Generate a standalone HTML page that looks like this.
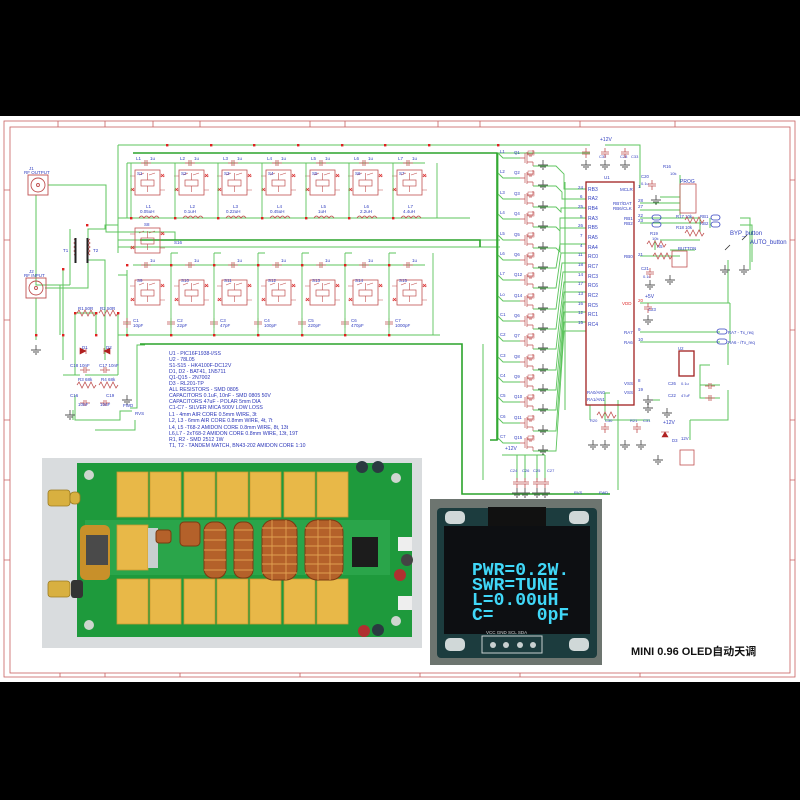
<!DOCTYPE html>
<html><head><meta charset="utf-8"><style>
html,body{margin:0;padding:0;background:#000;}
svg{display:block}
</style></head><body>
<svg width="800" height="800" viewBox="0 0 800 800" xmlns="http://www.w3.org/2000/svg" font-family="Liberation Sans, sans-serif">
<defs>
<g id="rel">
<rect x="0" y="0" width="25" height="25" fill="none" stroke="#c05050" stroke-width="0.8"/>
<rect x="6" y="10" width="13" height="6" fill="none" stroke="#c05050" stroke-width="0.7"/>
<path d="M12.5 3V10M12.5 16V22M4 5L9 3M14 5L20 3M-5 6H0M25 6H30M-5 20H0M25 20H30" stroke="#c05050" stroke-width="0.6" fill="none"/>
<path d="M26 4l3 3M29 4l-3 3M-4 18l3 3M-1 18l-3 3" stroke="#e03030" stroke-width="0.8"/>
</g>
<g id="ind"><path d="M0 0q2.5-4 5 0q2.5-4 5 0q2.5-4 5 0q2.5-4 5 0" fill="none" stroke="#c05050" stroke-width="0.8"/></g>
<g id="capv"><path d="M0 0V4M-4 4H4M-4 6H4M0 6V10" stroke="#c05050" stroke-width="0.8" fill="none"/></g>
<g id="caph"><path d="M0 0H4M4 -3V3M6 -3V3M6 0H10" stroke="#c05050" stroke-width="0.8" fill="none"/></g>
<g id="gnd"><path d="M0 0V5M-5 5H5M-3 7H3M-1 9H1" stroke="#555" stroke-width="0.9" fill="none"/></g>
<g id="q"><path d="M0 0H5M5 -5V5M7 -6V6M7 -4H13M7 4H13M13 -4V-8M13 4V8M9 -2H12" stroke="#c05050" stroke-width="0.7" fill="none"/><rect x="8" y="-7" width="6" height="4" fill="none" stroke="#c05050" stroke-width="0.5"/></g>
<g id="res"><path d="M0 0l2-3l3 6l3-6l3 6l3-6l3 6l2-3" fill="none" stroke="#c05050" stroke-width="0.8"/></g>
</defs>

<rect x="0" y="116" width="800" height="566" fill="#fff"/>
<g fill="none" stroke="#c86060" stroke-width="0.8">
<rect x="4" y="121" width="791" height="556"/>
<rect x="10" y="127" width="780" height="546"/>
<path d="M58 121V127M105 121V127M153 121V127M200 121V127M310 121V127M345 121V127M438 121V127M480 121V127M580 121V127M675 121V127M790 180H795M790 240H795M790 330H795M790 420H795M790 480H795M790 560H795M4 190H10M4 240H10M4 320H10M4 420H10M4 480H10M4 560H10M60 673V677M105 673V677M180 673V677M300 673V677M420 673V677M520 673V677M640 673V677"/>
</g>

<g fill="none" stroke="#5cc45c" stroke-width="1">
<path d="M118 145H590M133 153H497M127 163H425M118 145V253M127 163V218"/>
<path d="M118 218H470M118 240H500M118 247H500M133 265H425M118 335H440"/>
<path d="M48 185H106V232H175V240M36 195V285H70M45 288H88V229H105V225H118M60 285V335M36 298V340"/>
<path d="M70 229V285M88 260H105V340M63 270V360M105 340V360"/>
<path d="M75 313H96M96 313V335M127 270V335M127 275H118"/>
<path d="M75 313V375M118 313V375M63 375H80M85 375H118M75 395V420H120V411H132M73 410V420M130 408H137V345H145M148 344H462V494H610M483 344V480M95 430H135V420"/>
<path d="M498 153V440M565 182V410M498 153H590"/>
<path d="M605 145H640V182M640 152V188M680 175V215M660 197H680M640 203H680M640 210H680M640 218H700V232M640 223H700M660 240H700M640 256H680M640 303H730M730 303V343M728 260V303M656 218H660M655 240V250M670 250H695M740 218H750V270M740 225H752V262M710 218V228M640 332H720M640 342H720M728 343V365M728 390V420H690M690 420V440M710 365H700V398H720M700 385H720M650 400H660M618 400V490M610 393H605V420M590 405V420M605 420H650"/>
<path d="M502 455H545M517 455V480M525 455V480M537 455V480M545 455V480"/>
</g>
<g stroke="#2ba32b" stroke-width="1.6" fill="none">
<path d="M133 153H497V440H490M140 240H480V247M140 344H462V494H610"/>
</g>

<g fill="none" stroke="#c05050" stroke-width="0.9">
<rect x="28" y="175" width="20" height="20"/><circle cx="38" cy="185" r="7"/><circle cx="38" cy="185" r="1.5"/>
<rect x="26" y="278" width="20" height="20"/><circle cx="36" cy="288" r="7"/><circle cx="36" cy="288" r="1.5"/>
</g>
<path d="M74 239q3 2 0 4q3 2 0 4q3 2 0 4q3 2 0 4M90 239q-3 2 0 4q-3 2 0 4q-3 2 0 4q-3 2 0 4" fill="none" stroke="#c05050" stroke-width="0.8"/>
<rect x="74.5" y="238" width="2" height="25" fill="#222"/><rect x="86.5" y="238" width="2" height="25" fill="#222"/>
<use href="#gnd" x="36" y="345"/>
<use href="#res" x="77" y="313"/><use href="#res" x="99" y="313"/>
<use href="#res" x="77" y="385"/><use href="#res" x="99" y="385"/>
<use href="#caph" x="80" y="370"/><use href="#caph" x="100" y="370"/>
<use href="#caph" x="80" y="403"/><use href="#caph" x="100" y="403"/>
<path d="M80 348l6 3l-6 3zM86 348V354M110 348l-6 3l6 3zM104 348V354" fill="#b02020" stroke="#b02020" stroke-width="0.6"/>
<use href="#gnd" x="70" y="410"/><use href="#gnd" x="127" y="395"/>

<g>
<use href="#rel" x="135" y="170"/><use href="#rel" x="179" y="170"/><use href="#rel" x="222" y="170"/><use href="#rel" x="266" y="170"/><use href="#rel" x="310" y="170"/><use href="#rel" x="353" y="170"/><use href="#rel" x="397" y="170"/>
<use href="#rel" x="135" y="228"/>
<use href="#rel" x="135" y="280"/><use href="#rel" x="179" y="280"/><use href="#rel" x="222" y="280"/><use href="#rel" x="266" y="280"/><use href="#rel" x="310" y="280"/><use href="#rel" x="353" y="280"/><use href="#rel" x="397" y="280"/>
</g>
<g>
<use href="#caph" x="141" y="163"/><use href="#caph" x="185" y="163"/><use href="#caph" x="228" y="163"/><use href="#caph" x="272" y="163"/><use href="#caph" x="316" y="163"/><use href="#caph" x="359" y="163"/><use href="#caph" x="403" y="163"/>
<use href="#caph" x="141" y="265"/><use href="#caph" x="185" y="265"/><use href="#caph" x="228" y="265"/><use href="#caph" x="272" y="265"/><use href="#caph" x="316" y="265"/><use href="#caph" x="359" y="265"/><use href="#caph" x="403" y="265"/>
<use href="#ind" x="139" y="218"/><use href="#ind" x="183" y="218"/><use href="#ind" x="226" y="218"/><use href="#ind" x="270" y="218"/><use href="#ind" x="314" y="218"/><use href="#ind" x="357" y="218"/><use href="#ind" x="401" y="218"/>
<use href="#capv" x="127" y="318"/><use href="#capv" x="171" y="318"/><use href="#capv" x="214" y="318"/><use href="#capv" x="258" y="318"/><use href="#capv" x="302" y="318"/><use href="#capv" x="345" y="318"/><use href="#capv" x="389" y="318"/>
</g>
<g fill="none" stroke="#5cc45c" stroke-width="0.9">
<path d="M131 163V218M175 163V218M218 163V218M262 163V218M306 163V218M349 163V218M393 163V218M437 163V218"/>
<path d="M171 253V335M214 253V335M258 253V335M302 253V335M345 253V335M389 253V335M433 253V335M171 253H178M214 253H221M258 253H265M302 253H309M345 253H352M389 253H396"/>
</g>
<g fill="#e02020">
<rect x="130" y="217" width="2.4" height="2.4"/><rect x="174" y="217" width="2.4" height="2.4"/><rect x="217" y="217" width="2.4" height="2.4"/><rect x="261" y="217" width="2.4" height="2.4"/><rect x="305" y="217" width="2.4" height="2.4"/><rect x="348" y="217" width="2.4" height="2.4"/><rect x="392" y="217" width="2.4" height="2.4"/>
<rect x="166" y="144" width="2.4" height="2.4"/><rect x="210" y="144" width="2.4" height="2.4"/><rect x="253" y="144" width="2.4" height="2.4"/><rect x="297" y="144" width="2.4" height="2.4"/><rect x="341" y="144" width="2.4" height="2.4"/><rect x="384" y="144" width="2.4" height="2.4"/><rect x="428" y="144" width="2.4" height="2.4"/><rect x="497" y="144" width="2.4" height="2.4"/>
<rect x="126" y="264" width="2.4" height="2.4"/><rect x="170" y="264" width="2.4" height="2.4"/><rect x="213" y="264" width="2.4" height="2.4"/><rect x="257" y="264" width="2.4" height="2.4"/><rect x="301" y="264" width="2.4" height="2.4"/><rect x="344" y="264" width="2.4" height="2.4"/><rect x="388" y="264" width="2.4" height="2.4"/>
<rect x="126" y="334" width="2.4" height="2.4"/><rect x="170" y="334" width="2.4" height="2.4"/><rect x="213" y="334" width="2.4" height="2.4"/><rect x="257" y="334" width="2.4" height="2.4"/><rect x="301" y="334" width="2.4" height="2.4"/><rect x="344" y="334" width="2.4" height="2.4"/><rect x="388" y="334" width="2.4" height="2.4"/>
<rect x="35" y="334" width="2.4" height="2.4"/><rect x="62" y="334" width="2.4" height="2.4"/><rect x="95" y="334" width="2.4" height="2.4"/><rect x="62" y="268" width="2.4" height="2.4"/><rect x="74" y="312" width="2.4" height="2.4"/><rect x="95" y="312" width="2.4" height="2.4"/><rect x="117" y="312" width="2.4" height="2.4"/><rect x="86" y="224" width="2.4" height="2.4"/>
</g>
<g fill="#3340c0" font-size="4.5">
<text x="29" y="170">J1</text><text x="24" y="174">RF OUTPUT</text><text x="29" y="273">J2</text><text x="24" y="277">RF INPUT</text>
<text x="63" y="252">T1</text><text x="93" y="252">T2</text>
<text x="78" y="310">R1 50R</text><text x="100" y="310">R2 50R</text>
<text x="82" y="349">D1</text><text x="106" y="349">D2</text>
<text x="70" y="367">C18 10nF</text><text x="99" y="367">C17 10nF</text>
<text x="78" y="381">R3 68k</text><text x="101" y="381">R4 68k</text>
<text x="70" y="397">C16</text><text x="78" y="406">10nF</text><text x="106" y="397">C19</text><text x="100" y="406">10nF</text>
<text x="123" y="407">FWD</text><text x="135" y="415">RVS</text>
<text x="136" y="160">L1</text><text x="150" y="160">1u</text><text x="180" y="160">L2</text><text x="194" y="160">1u</text><text x="223" y="160">L3</text><text x="237" y="160">1u</text><text x="267" y="160">L4</text><text x="281" y="160">1u</text><text x="311" y="160">L5</text><text x="325" y="160">1u</text><text x="354" y="160">L6</text><text x="368" y="160">1u</text><text x="398" y="160">L7</text><text x="412" y="160">1u</text>
<text x="137" y="175">S1</text><text x="181" y="175">S2</text><text x="224" y="175">S3</text><text x="268" y="175">S4</text><text x="312" y="175">S5</text><text x="355" y="175">S6</text><text x="399" y="175">S7</text>
<text x="146" y="208">L1</text><text x="140" y="213">0.05uH</text><text x="190" y="208">L2</text><text x="184" y="213">0.1uH</text><text x="233" y="208">L3</text><text x="226" y="213">0.22uH</text><text x="277" y="208">L4</text><text x="270" y="213">0.45uH</text><text x="321" y="208">L5</text><text x="318" y="213">1uH</text><text x="364" y="208">L6</text><text x="360" y="213">2.2uH</text><text x="408" y="208">L7</text><text x="403" y="213">4.4uH</text>
<text x="144" y="226">S8</text><text x="174" y="244">S16</text>
<text x="150" y="262">1u</text><text x="194" y="262">1u</text><text x="237" y="262">1u</text><text x="281" y="262">1u</text><text x="325" y="262">1u</text><text x="368" y="262">1u</text><text x="412" y="262">1u</text>
<text x="137" y="282">S9</text><text x="181" y="282">S10</text><text x="224" y="282">S11</text><text x="268" y="282">S12</text><text x="312" y="282">S13</text><text x="355" y="282">S14</text><text x="399" y="282">S15</text>
<text x="133" y="322">C1</text><text x="133" y="327">10pF</text><text x="177" y="322">C2</text><text x="177" y="327">22pF</text><text x="220" y="322">C3</text><text x="220" y="327">47pF</text><text x="264" y="322">C4</text><text x="264" y="327">100pF</text><text x="308" y="322">C5</text><text x="308" y="327">220pF</text><text x="351" y="322">C6</text><text x="351" y="327">470pF</text><text x="395" y="322">C7</text><text x="395" y="327">1000pF</text>
</g>
<g fill="#2a35b8" font-size="5.2">
<text x="169" y="355">U1 - PIC16F1938-I/SS</text>
<text x="169" y="361">U2 - 78L05</text>
<text x="169" y="367">S1-S15 - HK4100F-DC12V</text>
<text x="169" y="373">D1, D2 - BAT41, 1N5711</text>
<text x="169" y="379">Q1-Q15 - 2N7002</text>
<text x="169" y="385">D3 - RL201-TP</text>
<text x="169" y="391">ALL RESISTORS - SMD 0805</text>
<text x="169" y="397">CAPACITORS 0.1uF, 10nF - SMD 0805 50V</text>
<text x="169" y="403">CAPACITORS 47uF - POLAR 5mm DIA</text>
<text x="169" y="409">C1-C7 - SILVER MICA 500V LOW LOSS</text>
<text x="169" y="416">L1 - 4mm AIR CORE 0.5mm WIRE, 3t</text>
<text x="169" y="422">L2, L3 - 6mm AIR CORE 0.8mm WIRE, 4t, 7t</text>
<text x="169" y="429">L4, L5 -T68-2 AMIDON CORE 0.8mm WIRE, 8t, 13t</text>
<text x="169" y="435">L6,L7 - 2xT68-2 AMIDON CORE 0.8mm WIRE, 13t, 19T</text>
<text x="169" y="441">R1, R2 - SMD 2512 1W</text>
<text x="169" y="447">T1, T2 - TANDEM MATCH, BN43-202 AMIDON CORE 1:10</text>
</g>

<g>
<use href="#q" x="520" y="158"/><use href="#q" x="520" y="178"/><use href="#q" x="520" y="199"/><use href="#q" x="520" y="219"/><use href="#q" x="520" y="240"/><use href="#q" x="520" y="260"/><use href="#q" x="520" y="280"/><use href="#q" x="520" y="301"/><use href="#q" x="520" y="321"/><use href="#q" x="520" y="341"/><use href="#q" x="520" y="362"/><use href="#q" x="520" y="382"/><use href="#q" x="520" y="402"/><use href="#q" x="520" y="423"/><use href="#q" x="520" y="443"/>
<use href="#gnd" x="543" y="160"/><use href="#gnd" x="543" y="180"/><use href="#gnd" x="543" y="201"/><use href="#gnd" x="543" y="221"/><use href="#gnd" x="543" y="242"/><use href="#gnd" x="543" y="262"/><use href="#gnd" x="543" y="282"/><use href="#gnd" x="543" y="303"/><use href="#gnd" x="543" y="323"/><use href="#gnd" x="543" y="343"/><use href="#gnd" x="543" y="364"/><use href="#gnd" x="543" y="384"/><use href="#gnd" x="543" y="404"/><use href="#gnd" x="543" y="425"/><use href="#gnd" x="543" y="445"/>
</g>
<g fill="none" stroke="#5cc45c" stroke-width="0.9">
<path d="M498 153l5 5H520M498 173l5 5H520M498 194l5 5H520M498 214l5 5H520M498 235l5 5H520M498 255l5 5H520M498 275l5 5H520M498 296l5 5H520M498 316l5 5H520M498 336l5 5H520M498 357l5 5H520M498 377l5 5H520M498 397l5 5H520M498 418l5 5H520M498 438l5 5H520"/>
<path d="M533 166H556l8 8V189H586M533 186H556l6 6V199H586M533 207H556l5 5V208H586M533 227H556l4 4V218H586M533 248H556l4 4V228H586M533 268H556l4-24H586M533 288H556l5-35H586M533 309H556l6-46H586M533 329H556l7-57H586M533 349H556l8-67H586M533 370H556l8-78H586M533 390H556l8-88H586M533 410H556l8-98H586M533 431H556l8-109H586M533 451H556l8-120H586"/>
</g>
<g fill="#3340c0" font-size="4.3">
<text x="500" y="153">L1</text><text x="500" y="173">L2</text><text x="500" y="194">L3</text><text x="500" y="214">L4</text><text x="500" y="235">L5</text><text x="500" y="255">L6</text><text x="500" y="275">L7</text><text x="500" y="296">Lo</text><text x="500" y="316">C1</text><text x="500" y="336">C2</text><text x="500" y="357">C3</text><text x="500" y="377">C4</text><text x="500" y="397">C5</text><text x="500" y="418">C6</text><text x="500" y="438">C7</text>
<text x="514" y="154">Q1</text><text x="514" y="174">Q2</text><text x="514" y="195">Q3</text><text x="514" y="215">Q4</text><text x="514" y="236">Q5</text><text x="514" y="256">Q6</text><text x="514" y="276">Q12</text><text x="514" y="297">Q14</text><text x="514" y="317">Q6</text><text x="514" y="337">Q7</text><text x="514" y="358">Q8</text><text x="514" y="378">Q9</text><text x="514" y="398">Q10</text><text x="514" y="419">Q11</text><text x="514" y="439">Q15</text>
</g>

<rect x="586" y="182" width="48" height="223" fill="none" stroke="#a02020" stroke-width="1.3"/>
<g fill="#3340c0" font-size="5">
<text x="604" y="179" font-size="4.5">U1</text>
<text x="588" y="191">RB3</text><text x="588" y="200">RA2</text><text x="588" y="210">RB4</text><text x="588" y="220">RA3</text><text x="588" y="229">RB5</text><text x="588" y="239">RA5</text><text x="588" y="249">RA4</text><text x="588" y="258">RC0</text><text x="588" y="268">RC7</text><text x="588" y="278">RC3</text><text x="588" y="287">RC6</text><text x="588" y="297">RC2</text><text x="588" y="307">RC5</text><text x="588" y="316">RC1</text><text x="588" y="326">RC4</text>
<text x="578" y="189" font-size="4.5">24</text><text x="580" y="198" font-size="4.5">6</text><text x="578" y="208" font-size="4.5">25</text><text x="580" y="218" font-size="4.5">5</text><text x="578" y="227" font-size="4.5">26</text><text x="580" y="237" font-size="4.5">7</text><text x="580" y="247" font-size="4.5">4</text><text x="578" y="256" font-size="4.5">11</text><text x="578" y="266" font-size="4.5">18</text><text x="578" y="276" font-size="4.5">14</text><text x="578" y="285" font-size="4.5">17</text><text x="578" y="295" font-size="4.5">13</text><text x="578" y="305" font-size="4.5">16</text><text x="578" y="314" font-size="4.5">12</text><text x="578" y="324" font-size="4.5">15</text>
<text x="620" y="191" font-size="4.5">MCLR</text><text x="613" y="205" font-size="4.5">RB7/DAT</text><text x="613" y="210" font-size="4.5">RB6/CLK</text>
<text x="624" y="220" font-size="4.5">RB1</text><text x="624" y="225" font-size="4.5">RB2</text><text x="624" y="258" font-size="4.5">RB0</text>
<text x="622" y="305" font-size="4.5" fill="#e03030">VDD</text><text x="624" y="334" font-size="4.5">RA7</text><text x="624" y="344" font-size="4.5">RA6</text>
<text x="624" y="385" font-size="4.5">VSS</text><text x="624" y="394" font-size="4.5">VSS</text>
<text x="587" y="394" font-size="4.3">RA0/AN0</text><text x="587" y="401" font-size="4.3">RA1/AN1</text>
<text x="638" y="188" font-size="4.5">1</text><text x="638" y="202" font-size="4.5">28</text><text x="638" y="208" font-size="4.5">27</text><text x="638" y="217" font-size="4.5">22</text><text x="638" y="222" font-size="4.5">23</text><text x="638" y="256" font-size="4.5">21</text><text x="638" y="302" font-size="4.5" fill="#e03030">20</text><text x="638" y="331" font-size="4.5">9</text><text x="638" y="341" font-size="4.5">10</text><text x="638" y="382" font-size="4.5">8</text><text x="638" y="391" font-size="4.5">19</text>
<text x="600" y="141">+12V</text><text x="599" y="158" font-size="4">C32</text><text x="620" y="158" font-size="4">C28</text><text x="631" y="158" font-size="4">C33</text>
<text x="641" y="178" font-size="4.3">C20</text><text x="641" y="185" font-size="4">0.1u</text>
<text x="663" y="168" font-size="4.3">R16</text><text x="670" y="175" font-size="4">10k</text>
<text x="680" y="183" font-size="5">PROG</text>
<text x="676" y="218" font-size="4.3">R17 10k</text><text x="676" y="229" font-size="4.3">R18 10k</text>
<text x="650" y="235" font-size="4.3">R19</text><text x="652" y="240" font-size="4">10k</text><text x="657" y="248" font-size="4.3">R5</text>
<text x="678" y="250" font-size="4.5">BUTTON</text>
<text x="641" y="270" font-size="4.3">C21</text><text x="643" y="278" font-size="4">0.1u</text>
<text x="645" y="298">+5V</text><text x="648" y="311" font-size="4.3">C23</text>
<text x="700" y="218" font-size="4.3">RB1</text><text x="700" y="225" font-size="4.3">RB2</text>
<text x="730" y="235" font-size="6">BYP_button</text><text x="750" y="244" font-size="6">AUTO_button</text>
<text x="728" y="334" font-size="4.3">RA7 - Tx_req</text><text x="728" y="344" font-size="4.3">RA6 - /Tx_req</text>
<text x="678" y="350" font-size="4.3">U2</text>
<text x="668" y="385" font-size="4.3">C26</text><text x="681" y="385" font-size="4">0.1u</text><text x="668" y="397" font-size="4.3">C22</text><text x="681" y="397" font-size="4">47uF</text>
<text x="663" y="424">+12V</text><text x="672" y="442" font-size="4.3">D3</text><text x="681" y="440" font-size="4.3">12V</text>
<text x="590" y="422" font-size="4">R20</text><text x="605" y="422" font-size="4">C30</text><text x="630" y="422" font-size="4">R21</text><text x="643" y="422" font-size="4">C31</text>
<text x="505" y="450">+12V</text><text x="510" y="472" font-size="4">C24</text><text x="522" y="472" font-size="4">C26</text><text x="533" y="472" font-size="4">C25</text><text x="547" y="472" font-size="4">C27</text>
<text x="574" y="494" font-size="4">RVS</text><text x="599" y="494" font-size="4">FWD</text>
</g>
<g>
<use href="#capv" x="586" y="148"/><use href="#capv" x="605" y="148"/><use href="#capv" x="625" y="148"/>
<use href="#gnd" x="586" y="160"/><use href="#gnd" x="605" y="160"/><use href="#gnd" x="625" y="160"/>
<use href="#capv" x="652" y="180"/><use href="#gnd" x="656" y="195"/>
<rect x="680" y="184" width="16" height="29" fill="none" stroke="#c05050" stroke-width="0.8"/>
<rect x="672" y="251" width="15" height="16" fill="none" stroke="#c05050" stroke-width="0.8"/>
<use href="#res" x="685" y="220"/><use href="#res" x="685" y="233"/><use href="#res" x="647" y="244"/><use href="#res" x="653" y="256"/>
<use href="#capv" x="650" y="268"/><use href="#gnd" x="650" y="280"/><use href="#gnd" x="670" y="275"/>
<use href="#capv" x="648" y="303"/><use href="#gnd" x="648" y="315"/>
<rect x="679" y="351" width="15" height="25" fill="none" stroke="#a02020" stroke-width="1.3"/>
<use href="#caph" x="705" y="386"/><use href="#caph" x="705" y="398"/><use href="#gnd" x="667" y="408"/>
<use href="#gnd" x="648" y="395"/><use href="#gnd" x="648" y="403"/>
<use href="#res" x="597" y="415"/><use href="#capv" x="605" y="423"/><use href="#capv" x="637" y="423"/>
<use href="#gnd" x="593" y="440"/><use href="#gnd" x="605" y="440"/><use href="#gnd" x="625" y="440"/><use href="#gnd" x="641" y="440"/>
<path d="M662 437l3-5l3 5zM661 432H669" fill="#b02020" stroke="#b02020" stroke-width="0.6"/>
<rect x="680" y="450" width="14" height="15" fill="none" stroke="#c05050" stroke-width="0.8"/>
<use href="#gnd" x="658" y="455"/>
<use href="#capv" x="517" y="478"/><use href="#capv" x="525" y="478"/><use href="#capv" x="537" y="478"/><use href="#capv" x="545" y="478"/>
<use href="#gnd" x="517" y="488"/><use href="#gnd" x="525" y="488"/><use href="#gnd" x="537" y="488"/><use href="#gnd" x="545" y="488"/>
<use href="#gnd" x="725" y="265"/><use href="#gnd" x="744" y="265"/>
<path d="M725 250l5-5M742 240l5-5" stroke="#333" stroke-width="0.8"/>
<g fill="none" stroke="#3340c0" stroke-width="0.8">
<rect x="711" y="215" width="9" height="5" rx="2.5"/><rect x="711" y="222" width="9" height="5" rx="2.5"/>
<rect x="652" y="215" width="9" height="5" rx="2.5"/><rect x="652" y="222" width="9" height="5" rx="2.5"/>
<rect x="717" y="329" width="10" height="5" rx="2.5"/><rect x="717" y="339" width="10" height="5" rx="2.5"/>
</g>
</g>

<rect x="42" y="458" width="380" height="190" fill="#d9dcde"/>
<rect x="77" y="463" width="335" height="174" fill="#1e9a3c"/>
<rect x="85" y="520" width="305" height="55" fill="#2aa54a"/>
<g fill="#e8b848" stroke="#c99a30" stroke-width="0.8">
<rect x="117" y="472" width="31" height="45"/><rect x="150" y="472" width="31" height="45"/><rect x="184" y="472" width="31" height="45"/><rect x="217" y="472" width="31" height="45"/><rect x="250" y="472" width="31" height="45"/><rect x="284" y="472" width="31" height="45"/><rect x="317" y="472" width="31" height="45"/>
<rect x="117" y="579" width="31" height="45"/><rect x="150" y="579" width="31" height="45"/><rect x="184" y="579" width="31" height="45"/><rect x="217" y="579" width="31" height="45"/><rect x="250" y="579" width="31" height="45"/><rect x="284" y="579" width="31" height="45"/><rect x="317" y="579" width="31" height="45"/>
<rect x="117" y="525" width="31" height="45"/>
</g>
<rect x="148" y="528" width="10" height="40" fill="#c8cfd0"/>
<g fill="#b4612a" stroke="#7a3a12" stroke-width="1">
<rect x="156" y="530" width="15" height="13" rx="3"/><rect x="180" y="522" width="20" height="24" rx="4"/>
<rect x="204" y="522" width="22" height="56" rx="9"/><rect x="234" y="522" width="19" height="56" rx="8"/>
<rect x="262" y="520" width="35" height="60" rx="11"/><rect x="305" y="520" width="38" height="60" rx="12"/>
</g>
<g stroke="#e0a050" stroke-width="0.9" fill="none">
<path d="M204 530H226M204 540H226M204 550H226M204 560H226M204 570H226M234 530H253M234 540H253M234 550H253M234 560H253M234 570H253M262 528H297M262 537H297M262 546H297M262 555H297M262 564H297M262 573H297M305 528H343M305 537H343M305 546H343M305 555H343M305 564H343M305 573H343M272 520V580M286 520V580M318 520V580M330 520V580"/>
</g>
<rect x="80" y="525" width="30" height="55" rx="6" fill="#c8902a"/>
<rect x="86" y="535" width="22" height="30" fill="#4a4a4a"/>
<g fill="#d8b040" stroke="#9a7a20" stroke-width="0.8">
<rect x="48" y="490" width="22" height="16" rx="3"/><rect x="70" y="492" width="10" height="12" rx="4"/>
<rect x="48" y="581" width="22" height="16" rx="3"/></g>
<rect x="71" y="580" width="12" height="18" rx="3" fill="#333"/>
<rect x="352" y="537" width="26" height="30" fill="#1c1c1c"/>
<circle cx="362" cy="467" r="6" fill="#2a3a40"/><circle cx="378" cy="467" r="6" fill="#2a3a40"/>
<circle cx="364" cy="631" r="6" fill="#b03030"/><circle cx="378" cy="630" r="6" fill="#2a3a40"/>
<circle cx="407" cy="560" r="6" fill="#444"/><circle cx="400" cy="575" r="6" fill="#b03030"/>
<rect x="398" y="537" width="14" height="14" fill="#eee"/><rect x="398" y="596" width="14" height="14" fill="#eee"/>
<g fill="#cfd6d0"><circle cx="89" cy="475" r="5"/><circle cx="89" cy="625" r="5"/><circle cx="396" cy="478" r="5"/><circle cx="396" cy="621" r="5"/></g>

<rect x="430" y="499" width="172" height="166" fill="#6d7570"/>
<rect x="437" y="508" width="160" height="150" rx="4" fill="#1c3c3e"/>
<rect x="488" y="507" width="58" height="20" fill="#111"/>
<rect x="444" y="526" width="146" height="108" fill="#0d0f12"/>
<g fill="#d0d8d8"><rect x="445" y="511" width="20" height="13" rx="5"/><rect x="569" y="511" width="20" height="13" rx="5"/><rect x="445" y="638" width="20" height="13" rx="5"/><rect x="569" y="638" width="20" height="13" rx="5"/></g>
<rect x="482" y="636" width="60" height="17" fill="none" stroke="#c8d0d0" stroke-width="1"/>
<g fill="#c8d0d0"><circle cx="493" cy="645" r="3"/><circle cx="506" cy="645" r="3"/><circle cx="520" cy="645" r="3"/><circle cx="533" cy="645" r="3"/></g>
<text x="486" y="634" font-size="4.5" fill="#cfd6d6">VCC GND SCL SDA</text>
<g fill="#40d8f8" font-family="Liberation Mono, monospace" font-size="18" font-weight="bold">
<text x="472" y="575">PWR=0.2W.</text>
<text x="472" y="590">SWR=TUNE</text>
<text x="472" y="605">L=0.00uH</text>
<text x="472" y="620">C=&#160;&#160;&#160;&#160;0pF</text>
</g>
<text x="631" y="655" font-size="11" font-weight="bold" fill="#111" font-family="Liberation Sans, Noto Sans CJK SC, sans-serif">MINI 0.96 OLED自动天调</text>
</svg>
</body></html>
